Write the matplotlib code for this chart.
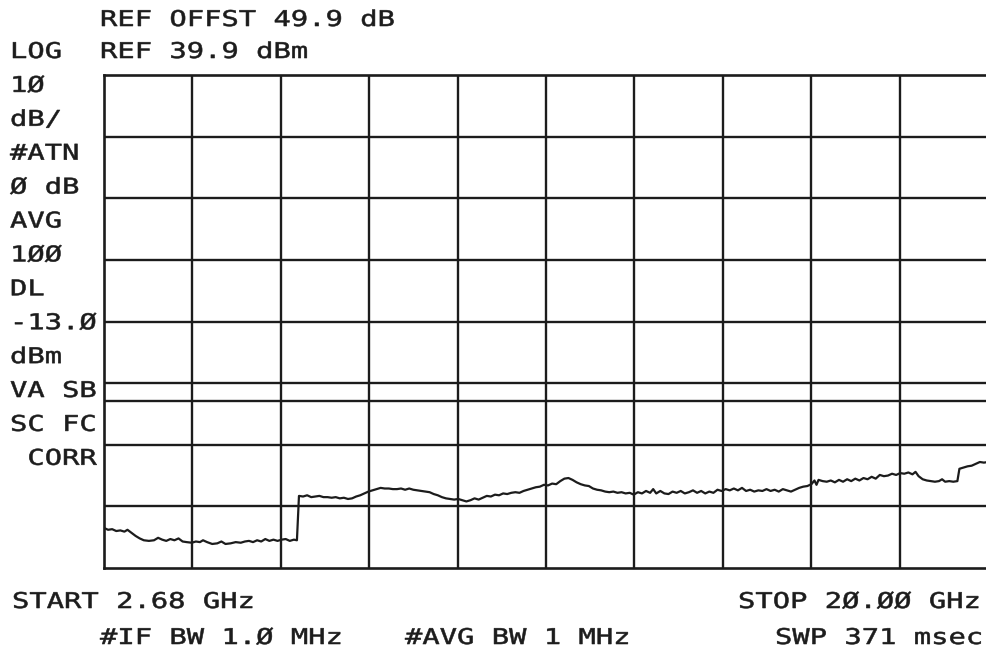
import matplotlib
matplotlib.use('Agg')
import matplotlib.pyplot as plt
from matplotlib import patheffects
from matplotlib.transforms import Affine2D

W, H = 986, 652

# sweep settings
f_start, f_stop = 2.68, 20.00      # GHz
ref_level = 39.9                   # dBm
db_per_div = 10
display_line = -13.0               # dBm

# averaged trace (GHz, dBm)
freq = [
    2.68, 2.76, 2.84, 2.92, 3.00, 3.08, 3.14, 3.22, 3.30, 3.38, 3.46, 3.56,
    3.66, 3.74, 3.82, 3.90, 3.98, 4.06, 4.14, 4.22, 4.30, 4.40, 4.48, 4.56,
    4.62, 4.70, 4.80, 4.90, 4.98, 5.06, 5.16, 5.26, 5.36, 5.44, 5.52, 5.60,
    5.68, 5.76, 5.84, 5.92, 6.00, 6.08, 6.16, 6.24, 6.32, 6.40, 6.46,
    6.50, 6.58, 6.66, 6.74, 6.82, 6.90, 6.98, 7.06, 7.14, 7.22, 7.30, 7.38,
    7.46, 7.54, 7.62, 7.70, 7.78, 7.86, 7.94, 8.02, 8.10, 8.18, 8.26, 8.34,
    8.42, 8.50, 8.58, 8.66, 8.74, 8.82, 8.90, 8.98, 9.06, 9.14, 9.22, 9.30,
    9.38, 9.46, 9.54, 9.62, 9.70, 9.78, 9.86, 9.94, 10.02, 10.10, 10.18,
    10.26, 10.34, 10.42, 10.50, 10.58, 10.66, 10.74, 10.82, 10.90, 10.98,
    11.06, 11.14, 11.22, 11.30, 11.38, 11.46, 11.54, 11.62, 11.70, 11.78,
    11.86, 11.94, 12.02, 12.10, 12.18, 12.26, 12.34, 12.42, 12.50, 12.58,
    12.66, 12.74, 12.82, 12.90, 12.98, 13.06, 13.14, 13.22, 13.30, 13.38,
    13.44, 13.50, 13.58, 13.66, 13.74, 13.82, 13.90, 13.98, 14.06, 14.14,
    14.22, 14.30, 14.38, 14.46, 14.54, 14.62, 14.70, 14.78, 14.86, 14.94,
    15.02, 15.10, 15.18, 15.26, 15.34, 15.42, 15.50, 15.58, 15.66, 15.74,
    15.82, 15.90, 15.98, 16.06, 16.14, 16.22, 16.30, 16.38, 16.46, 16.54,
    16.60, 16.64, 16.68, 16.76, 16.84, 16.92, 17.00, 17.08, 17.16, 17.24,
    17.32, 17.40, 17.48, 17.56, 17.64, 17.72, 17.80, 17.88, 17.96, 18.04,
    18.12, 18.20, 18.28, 18.36, 18.44, 18.52, 18.58, 18.64, 18.72, 18.80,
    18.88, 18.96, 19.04, 19.10, 19.16, 19.24, 19.32, 19.40, 19.44, 19.52,
    19.60, 19.68, 19.76, 19.84, 19.92, 20.00,
]
level = [
    -33.6, -33.9, -33.8, -34.1, -34.0, -34.2, -33.9, -34.4, -34.9, -35.3, -35.6, -35.7,
    -35.6, -35.2, -35.5, -35.7, -35.4, -35.6, -35.3, -35.8, -35.9, -36.0, -35.8, -35.9,
    -35.6, -35.9, -36.2, -36.1, -35.8, -36.2, -36.1, -35.9, -36.0, -35.8, -35.7, -35.9,
    -35.6, -35.8, -35.4, -35.7, -35.5, -35.7, -35.5, -35.4, -35.7, -35.5, -35.6,
    -28.4, -28.5, -28.3, -28.6, -28.5, -28.4, -28.6, -28.6, -28.7, -28.6, -28.8, -28.7,
    -28.9, -28.8, -28.5, -28.3, -28.0, -27.7, -27.5, -27.3, -27.1, -27.2, -27.2, -27.3,
    -27.3, -27.2, -27.4, -27.2, -27.4, -27.5, -27.6, -27.7, -27.8, -28.1, -28.3, -28.6,
    -28.8, -28.9, -29.0, -28.9, -29.1, -29.3, -29.1, -28.8, -29.0, -28.7, -28.4,
    -28.5, -28.2, -28.3, -28.0, -28.1, -27.9, -27.8, -27.9, -27.6, -27.4,
    -27.2, -27.0, -26.9, -26.6, -26.7, -26.4, -26.5, -26.0, -25.6, -25.5,
    -25.8, -26.2, -26.5, -26.7, -26.8, -27.2, -27.4, -27.5, -27.7, -27.8,
    -27.7, -27.9, -27.8, -28.0, -27.9, -28.2, -27.8, -28.0, -27.6, -27.9,
    -27.3, -28.0, -27.6, -28.0, -28.1, -27.7, -27.9, -27.6, -28.0, -27.8,
    -27.5, -27.9, -27.6, -28.0, -27.7, -27.9, -27.4, -27.6, -27.3, -27.5,
    -27.2, -27.5, -27.1, -27.6, -27.4, -27.7, -27.5, -27.6, -27.3, -27.6,
    -27.4, -27.7, -27.3, -27.5, -27.7, -27.4, -27.1, -26.9, -26.8, -26.5,
    -25.9, -26.6, -25.8, -26.0, -26.1, -25.9, -26.2, -25.8, -26.1, -25.7,
    -26.0, -25.6, -25.9, -25.5, -25.7, -25.3, -25.6, -25.0, -25.2, -25.1,
    -24.8, -25.0, -24.7, -24.8, -24.6, -24.9, -24.5, -25.2, -25.7, -25.9,
    -26.0, -26.1, -26.0, -25.7, -26.1, -26.0, -26.1, -26.0, -24.0, -23.8,
    -23.6, -23.5, -23.2, -22.9, -23.0, -22.9,
]

# annotation block down the left edge
side_labels = ['LOG', '1Ø', 'dB/', '#ATN', 'Ø dB', 'AVG', '1ØØ', 'DL',
               '-13.Ø', 'dBm', 'VA SB', 'SC FC', ' CORR']
top_labels = ['REF OFFST 49.9 dB', 'REF 39.9 dBm']
bottom_labels = ['START 2.68 GHz', 'STOP 2Ø.ØØ GHz',
                 '#IF BW 1.Ø MHz', '#AVG BW 1 MHz', 'SWP 371 msec']

INK = '#1c1c1c'


class Widen(patheffects.AbstractPathEffect):
    """Stretch glyphs horizontally from the text origin and thicken the strokes
    a little, like the pen font of the plotter."""

    def __init__(self, sx, stroke=0.4):
        super().__init__()
        self.sx = sx
        self.stroke = stroke

    def draw_path(self, renderer, gc, tpath, affine, rgbFace=None):
        t = Affine2D().scale(self.sx, 1.0) + affine
        gc0 = renderer.new_gc()
        gc0.copy_properties(gc)
        gc0.set_linewidth(self.stroke)
        gc0.set_foreground(INK)
        gc0.set_joinstyle('round')
        renderer.draw_path(gc0, tpath, t, rgbFace)
        gc0.restore()


def label(fig, x, y, s):
    # x, y in pixels from the top-left corner, y is the baseline
    fig.text(x / W, 1 - y / H, s, ha='left', va='baseline',
             family='DejaVu Sans Mono', fontsize=15.6, color=INK,
             path_effects=[Widen(1.33)])


fig = plt.figure(figsize=(W / 100, H / 100), dpi=100)
ax = fig.add_axes([104 / W, 1 - 568 / H, 884 / W, 493 / H])

ax.set_xlim(f_start, f_stop)
ax.set_ylim(ref_level - 8 * db_per_div, ref_level)

# graticule: 10 x 8 divisions
step = (f_stop - f_start) / 10
for i in range(1, 10):
    ax.axvline(f_start + i * step, color=INK, lw=1.7)
for j in range(1, 8):
    ax.axhline(ref_level - j * db_per_div, color=INK, lw=1.7)
ax.axhline(display_line, color=INK, lw=1.7)

ax.plot(freq, level, color=INK, lw=1.6, solid_joinstyle='round')

ax.set_xticks([])
ax.set_yticks([])
for sp in ax.spines.values():
    sp.set_linewidth(1.9)
    sp.set_color(INK)

label(fig, 100, 26, top_labels[0])
label(fig, 100, 58, top_labels[1])
for k, s in enumerate(side_labels):
    label(fig, 10, 58 + 33.9 * k, s)

label(fig, 12, 608, bottom_labels[0])
label(fig, 738, 608, bottom_labels[1])
label(fig, 100, 644, bottom_labels[2])
label(fig, 405, 644, bottom_labels[3])
label(fig, 775, 644, bottom_labels[4])

fig.savefig('out.png', dpi=100, facecolor='white')
